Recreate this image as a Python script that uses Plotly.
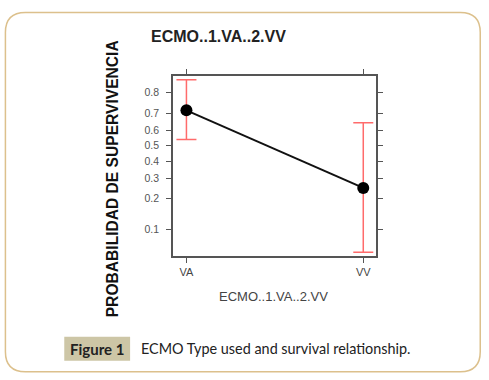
import numpy as np
import plotly.graph_objects as go

# ---- data ----
categories = ["VA", "VV"]
prob_est = [0.716, 0.249]
prob_upper = [0.849, 0.645]
prob_lower = [0.540, 0.058]
y_tick_vals = [0.1, 0.2, 0.3, 0.4, 0.5, 0.6, 0.7, 0.8]
y_tick_text = ["0.1", "0.2", "0.3", "0.4", "0.5", "0.6", "0.7", "0.8"]
title_text = "ECMO..1.VA..2.VV"
x_label = "ECMO..1.VA..2.VV"
y_label = "PROBABILIDAD DE SUPERVIVENCIA"
caption_tag = "Figure 1"
caption_text = "ECMO Type used and survival relationship."


def logit(p):
    p = np.asarray(p, dtype=float)
    return np.log(p / (1 - p))


W, H = 489, 380
L, R, T, B = 173, 376.5, 75.7, 256
ml, mr, mt, mb = L, W - R, T, H - B


def px(x):
    return (x - L) / (R - L)


def py(y):
    return (B - y) / (B - T)


est = logit(prob_est)
up = logit(prob_upper) - est
lo = est - logit(prob_lower)

fig = go.Figure()
fig.add_trace(go.Scatter(
    x=[0, 1], y=est, mode="lines+markers",
    line=dict(color="#111111", width=2),
    marker=dict(color="#000000", size=12),
    error_y=dict(type="data", symmetric=False, array=up, arrayminus=lo,
                 color="#ff6b6b", thickness=1.5, width=10),
    showlegend=False, hoverinfo="skip",
))

fig.update_xaxes(
    range=[-0.076, 1.072], tickvals=[0, 1], ticktext=categories,
    showline=True, linecolor="#555555", linewidth=1.5, mirror="ticks",
    ticks="outside", ticklen=5, tickcolor="#555555", showgrid=False, zeroline=False,
    tickfont=dict(family="Liberation Sans, Arial", size=11, color="#444444"),
)
fig.update_yaxes(
    range=[-2.885, 1.822], tickvals=logit(y_tick_vals), ticktext=y_tick_text,
    showline=True, linecolor="#555555", linewidth=1.5, mirror="ticks",
    ticks="outside", ticklen=5, tickcolor="#555555", showgrid=False, zeroline=False,
    ticklabelstandoff=5,
    tickfont=dict(family="Liberation Sans, Arial", size=10.5, color="#555555"),
)

shapes = []
# outer rounded frame
x0, y0, x1, y1, r = 5, 12, 481, 372, 20
path = (f"M {px(x0)} {py(y0 + r)} "
        f"Q {px(x0)} {py(y0)} {px(x0 + r)} {py(y0)} "
        f"L {px(x1 - r)} {py(y0)} "
        f"Q {px(x1)} {py(y0)} {px(x1)} {py(y0 + r)} "
        f"L {px(x1)} {py(y1 - r)} "
        f"Q {px(x1)} {py(y1)} {px(x1 - r)} {py(y1)} "
        f"L {px(x0 + r)} {py(y1)} "
        f"Q {px(x0)} {py(y1)} {px(x0)} {py(y1 - r)} Z")
shapes.append(dict(type="path", xref="paper", yref="paper", path=path,
                   line=dict(color="#dcc08c", width=1.5), fillcolor="rgba(0,0,0,0)", layer="below"))
# caption tag box
shapes.append(dict(type="rect", xref="paper", yref="paper",
                   x0=px(64), x1=px(130), y0=py(361), y1=py(337),
                   line=dict(width=0), fillcolor="#cdc6a6", layer="below"))
fig.update_layout(shapes=shapes)

annotations = [
    dict(text=f"<b>{title_text}</b>", x=px(219), y=py(36), xref="paper", yref="paper",
         showarrow=False, xanchor="center", yanchor="middle",
         font=dict(family="Liberation Sans, Arial", size=16, color="#222222")),
    dict(text=x_label, x=px(274), y=py(297), xref="paper", yref="paper",
         showarrow=False, xanchor="center", yanchor="middle",
         font=dict(family="Liberation Sans, Arial", size=13, color="#444444")),
    dict(text=f"<b>{y_label}</b>", x=px(112), y=py(179), xref="paper", yref="paper",
         showarrow=False, xanchor="center", yanchor="middle", textangle=-90,
         font=dict(family="Liberation Sans, Arial", size=15.6, color="#111111")),
    dict(text=f"<b>{caption_tag}</b>", x=px(97), y=py(349), xref="paper", yref="paper",
         showarrow=False, xanchor="center", yanchor="middle",
         font=dict(family="Lato", size=15, color="#222222")),
    dict(text=caption_text, x=px(139), y=py(349), xref="paper", yref="paper",
         showarrow=False, xanchor="left", yanchor="middle",
         font=dict(family="Lato", size=14.4, color="#222222")),
]
fig.update_layout(annotations=annotations)

fig.update_layout(
    width=W, height=H, margin=dict(l=ml, r=mr, t=mt, b=mb, pad=0),
    paper_bgcolor="white", plot_bgcolor="white",
)

fig.write_html("out.html", config={"displayModeBar": False},
               post_script="document.body.style.margin='0';")
